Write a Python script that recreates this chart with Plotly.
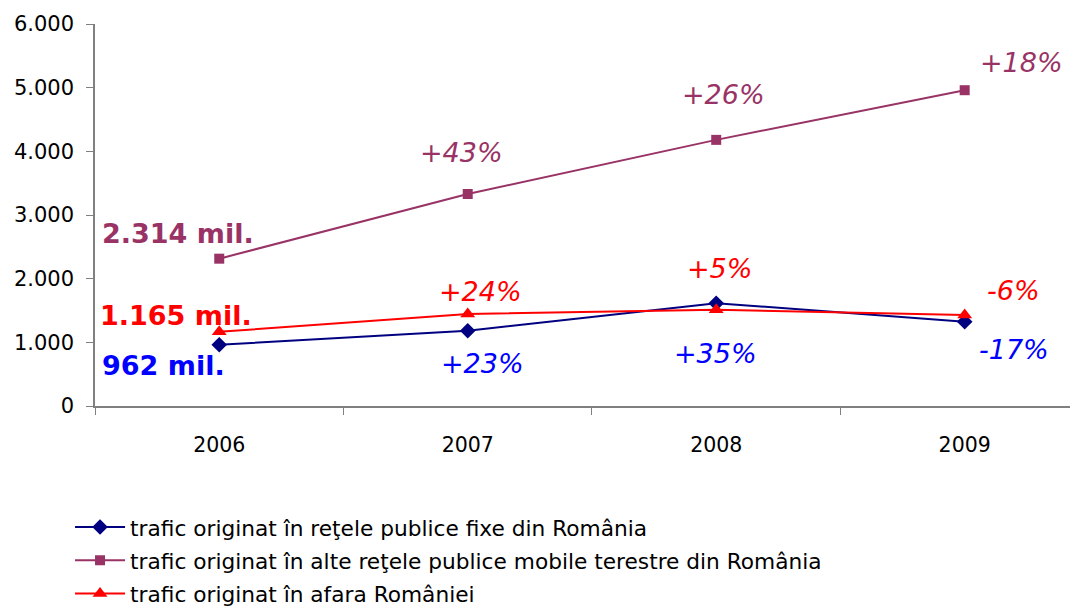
import plotly.graph_objects as go

years = ["2006", "2007", "2008", "2009"]
fixed_net = [962, 1183, 1615, 1325]
mobile_net = [2314, 3330, 4180, 4960]
outside_ro = [1165, 1445, 1510, 1430]

names = [
    "trafic originat în reţele publice fixe din România",
    "trafic originat în alte reţele publice mobile terestre din România",
    "trafic originat în afara României",
]

fixed_pct = ["+23%", "+35%", "-17%"]
mobile_pct = ["+43%", "+26%", "+18%"]
outside_pct = ["+24%", "+5%", "-6%"]
start_labels = ["962 mil.", "2.314 mil.", "1.165 mil."]

C_NAVY = "#000080"
C_PURPLE = "#993366"
C_RED = "#FF0000"
C_BLUE = "#0000FF"
FONT = "DejaVu Sans, Verdana, sans-serif"

fig = go.Figure()
fig.add_trace(go.Scatter(x=years, y=fixed_net, name=names[0], mode="lines+markers",
                         legendgroup="a",
                         line=dict(color=C_NAVY, width=2),
                         marker=dict(symbol="diamond", size=12, color=C_NAVY)))
fig.add_trace(go.Scatter(x=years, y=mobile_net, name=names[1], mode="lines+markers",
                         legendgroup="b",
                         line=dict(color=C_PURPLE, width=2),
                         marker=dict(symbol="square", size=10, color=C_PURPLE)))
fig.add_trace(go.Scatter(x=years, y=outside_ro, name=names[2], mode="lines+markers",
                         legendgroup="c",
                         line=dict(color=C_RED, width=2),
                         marker=dict(symbol="triangle-up", size=13, color=C_RED)))

ann = []
def pct(text, x, y, color):
    ann.append(dict(text="<i>%s</i>" % text, x=x, y=y, xref="x", yref="y", showarrow=False,
                    font=dict(family=FONT, size=27, color=color),
                    xanchor="center", yanchor="middle"))

pct(mobile_pct[0], 0.976, 3974, C_PURPLE)
pct(mobile_pct[1], 2.028, 4885, C_PURPLE)
pct(mobile_pct[2], 3.229, 5403, C_PURPLE)
pct(outside_pct[0], 1.052, 1791, C_RED)
pct(outside_pct[1], 2.012, 2152, C_RED)
pct(outside_pct[2], 3.197, 1822, C_RED)
pct(fixed_pct[0], 1.060, 675, C_BLUE)
pct(fixed_pct[1], 1.996, 832, C_BLUE)
pct(fixed_pct[2], 3.200, 880, C_BLUE)

def bold(text, x, y, color):
    ann.append(dict(text="<b>%s</b>" % text, x=x, y=y, xref="x", yref="y", showarrow=False,
                    font=dict(family=FONT, size=27, color=color),
                    xanchor="left", yanchor="middle"))

bold(start_labels[1], (100 - 219) / 249, 2717, C_PURPLE)
bold(start_labels[2], (98 - 219) / 249, 1429, C_RED)
bold(start_labels[0], (100 - 219) / 249, 644, C_BLUE)

# page body has an 8px margin, so the figure is sized/offset accordingly
fig.update_layout(
    width=1070, height=600,
    margin=dict(l=87, r=0, t=16, b=202, autoexpand=False),
    paper_bgcolor="white", plot_bgcolor="white",
    separators=",.",
    font=dict(family=FONT, size=20, color="black"),
    annotations=ann,
    showlegend=True,
    legend=dict(x=-0.0254, y=-0.263, xanchor="left", yanchor="top",
                orientation="v", itemwidth=50, tracegroupgap=2,
                font=dict(family=FONT, size=21.7, color="black"),
                bgcolor="rgba(0,0,0,0)"),
    xaxis=dict(type="category", range=[-0.5, 3.456], showline=True, linecolor="#808080",
               linewidth=1.5, ticks="outside", ticklen=7, tickcolor="#808080",
               tickson="boundaries", showgrid=False, zeroline=False,
               ticklabelstandoff=20, automargin=False,
               tickfont=dict(size=20.5), fixedrange=True),
    yaxis=dict(range=[0, 6000], dtick=1000, tickformat=",d", showline=True,
               linecolor="#808080", linewidth=1.5, ticks="outside", ticklen=7,
               tickcolor="#808080", showgrid=False, zeroline=False,
               ticklabelstandoff=8, automargin=False,
               tickfont=dict(size=21), fixedrange=True),
)

fig.write_html("out.html")
